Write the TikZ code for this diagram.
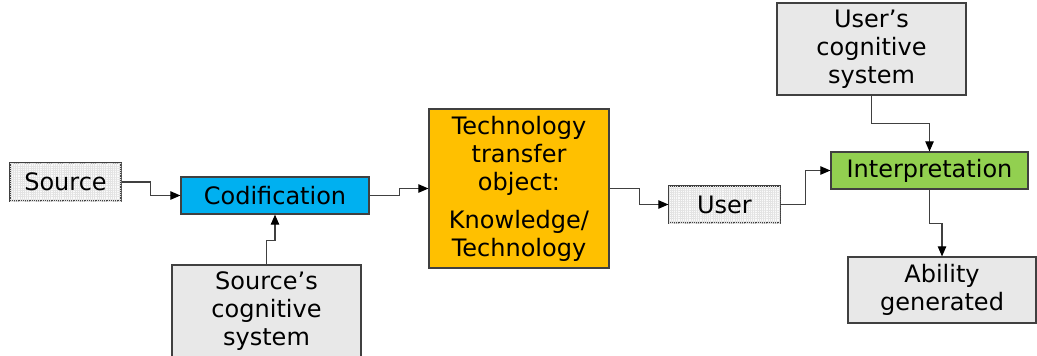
\documentclass[tikz,border=0pt]{standalone}
\usepackage{fontspec}
\setmainfont{DejaVu Sans}
\usetikzlibrary{patterns.meta, arrows.meta}

\definecolor{codblue}{HTML}{00B0F0}
\definecolor{ttoorange}{HTML}{FFC000}
\definecolor{intgreen}{HTML}{92D050}
\definecolor{boxgray}{HTML}{E8E8E8}
\definecolor{edgegray}{HTML}{404040}

\begin{document}
\begin{tikzpicture}[x = 0.5pt, y = -0.5pt, > = {Triangle[length = 5pt, width = 4.2pt, black]},
	font = \fontsize{12}{14}\selectfont,
	box/.style = {draw = edgegray, line width = 0.6pt, inner sep = 0pt, align = center},
	gridbox/.style = {box, fill = gray!4,
		postaction = {pattern = {Lines[distance = 1.1pt, angle = 0, line width = 0.2pt]}, pattern color = gray!22},
		postaction = {pattern = {Lines[distance = 1.1pt, angle = 90, line width = 0.2pt]}, pattern color = gray!22}},
	graybox/.style = {box, fill = boxgray},
	link/.style = {->, draw = edgegray, line width = 0.55pt}]

	% Frame
	
	\useasboundingbox (0, 0) rectangle (1037, 355);
	
	% Source side
	
	\node [gridbox, minimum width = 55.5pt, minimum height = 19pt] (src) at (65.5, 182) {Source};
	\node [box, fill = codblue, minimum width = 94pt, minimum height = 18.5pt] (cod) at (275, 195.5) {Codification};
	\node [graybox, minimum width = 94.5pt, minimum height = 46pt] (srccog) at (266.5, 311) {Source’s\\cognitive\\system};
	
	% Transfer object
	
	\node [box, fill = ttoorange, minimum width = 90pt, minimum height = 79.5pt] (tto) at (519, 188.5)
		{Technology\\transfer\\object:\\[5pt]Knowledge/\\Technology};
	
	% User side
	
	\node [gridbox, minimum width = 55.5pt, minimum height = 18.5pt] (user) at (724.5, 204.5) {User};
	\node [box, fill = intgreen, minimum width = 98.5pt, minimum height = 18.5pt] (interp) at (929.5, 170.5) {Interpretation};
	\node [graybox, minimum width = 94.5pt, minimum height = 46pt] (usercog) at (871.5, 49) {User’s\\cognitive\\system};
	\node [graybox, minimum width = 94pt, minimum height = 33pt] (ability) at (942, 290) {Ability\\generated};
	
	% Connectors
	
	\draw [link] (src.east) -- ++(29, 0) |- (cod.west);
	\draw [link] (srccog.north) -- ++(0, -24) -| (cod.south);
	\draw [link] (cod.east) -- ++(30, 0) |- (tto.west);
	\draw [link] (tto.east) -- ++(30, 0) |- (user.west);
	\draw [link] (user.east) -- ++(25, 0) |- (interp.west);
	\draw [link] (usercog.south) -- ++(0, 28) -| (interp.north);
	\draw [link] (interp.south) -- ++(0, 34) -| (ability.north);

\end{tikzpicture}
\end{document}
